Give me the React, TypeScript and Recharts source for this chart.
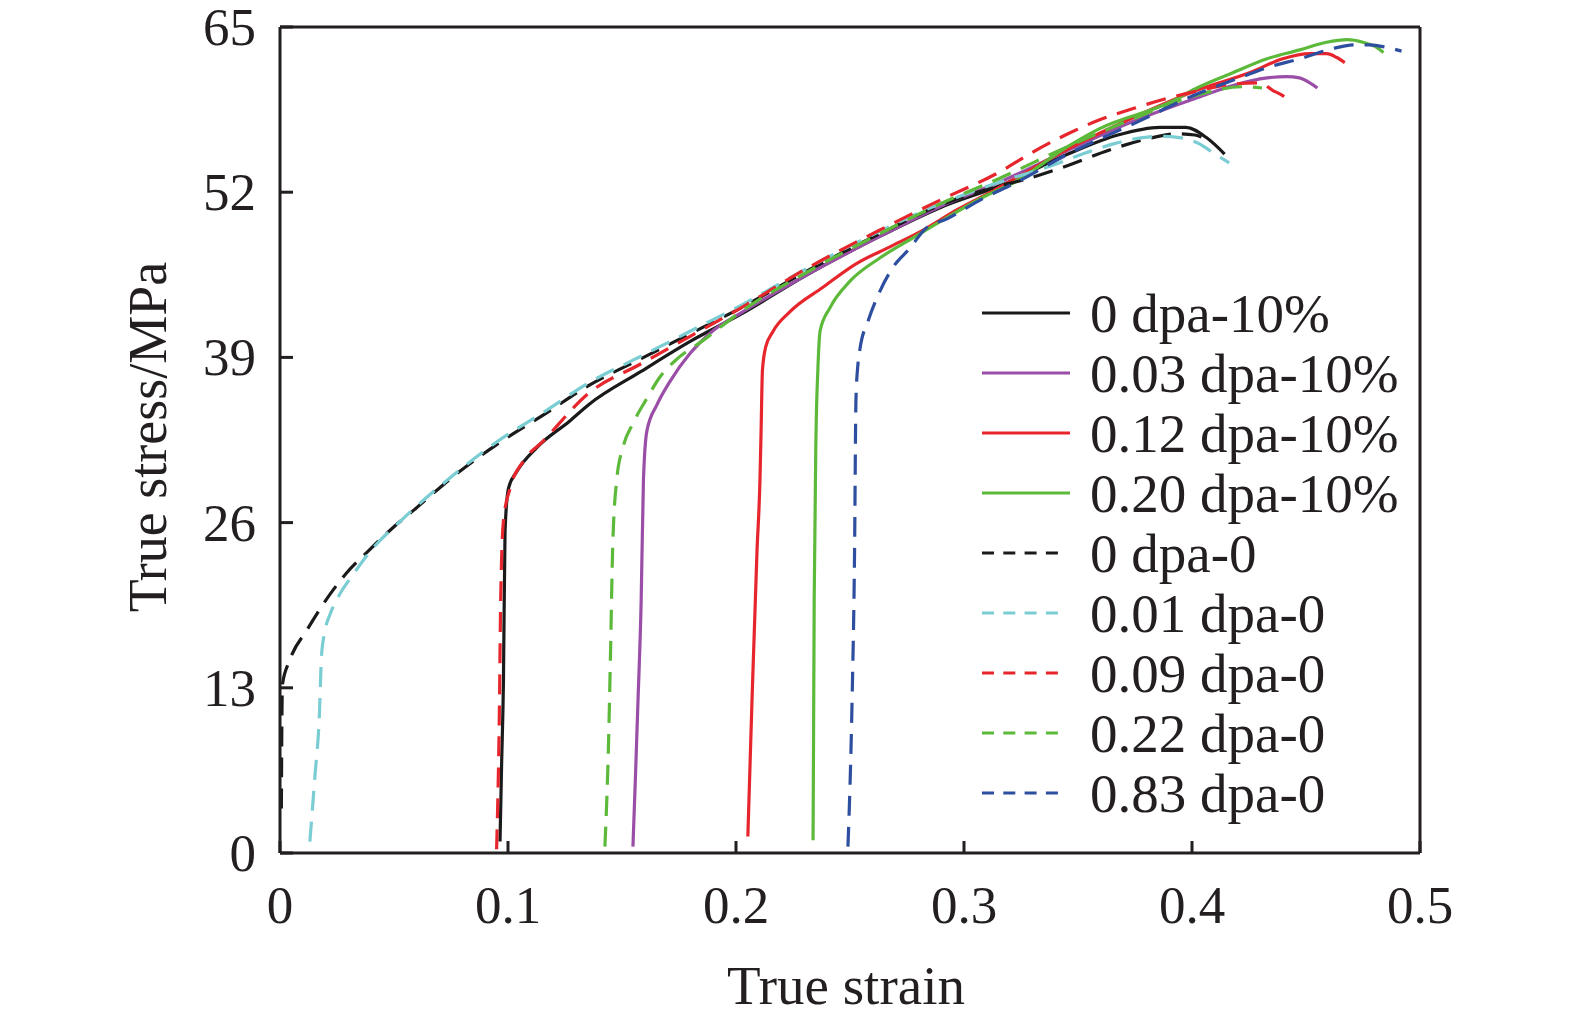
import React from 'react';
import { LineChart, Line, XAxis, YAxis, ReferenceLine, Legend } from 'recharts';

// ---------- tick values / labels ----------
const xTicks = [0, 0.1, 0.2, 0.3, 0.4, 0.5];
const xTickLabels = ['0', '0.1', '0.2', '0.3', '0.4', '0.5'];
const yTicks = [0, 13, 26, 39, 52, 65];
const yTickLabels = ['0', '13', '26', '39', '52', '65'];

// ---------- series values: [true strain, true stress / MPa] ----------
const s0dpa10: number[][] = [
  [0.0965, 0.9], [0.0972, 7], [0.098, 13.5], [0.0987, 25.3], [0.1002, 28.7], [0.1038, 30.0],
  [0.1126, 31.9], [0.1271, 34.0], [0.1355, 35.3], [0.1584, 37.9], [0.1803, 40.3], [0.2022, 42.4],
  [0.2311, 45.5], [0.2639, 48.6], [0.2898, 50.8], [0.3157, 52.5], [0.3456, 55.0], [0.3675, 56.5],
  [0.3859, 57.1], [0.3973, 57.1], [0.4063, 56.3], [0.4143, 55.0],
];
const s003dpa10: number[][] = [
  [0.1548, 0.5], [0.1559, 6], [0.157, 11.9], [0.1584, 19.8], [0.1594, 29.3], [0.1609, 33.2],
  [0.1654, 35.3], [0.171, 37.1], [0.1798, 39.3], [0.1899, 41.1], [0.2022, 42.5], [0.2311, 45.5],
  [0.2639, 48.6], [0.2898, 50.9], [0.3157, 52.8], [0.3456, 55.3], [0.3745, 57.6], [0.4033, 59.5],
  [0.4179, 60.4], [0.4329, 61.0], [0.4416, 61.1], [0.4471, 61.0], [0.4517, 60.6], [0.455, 60.2],
];
const s012dpa10: number[][] = [
  [0.2052, 1.3], [0.207, 11.9], [0.2092, 23.7], [0.2105, 29.3], [0.211, 33.2], [0.2116, 38.0],
  [0.213, 39.8], [0.2161, 41.0], [0.2237, 42.6], [0.238, 44.5], [0.253, 46.4], [0.2675, 47.7],
  [0.2819, 49.0], [0.2968, 50.6], [0.3127, 52.1], [0.3456, 55.4], [0.3745, 57.9], [0.4033, 60.1],
  [0.4252, 61.4], [0.4398, 62.5], [0.4517, 62.9], [0.4591, 62.9], [0.4635, 62.6], [0.467, 62.2],
];
const s020dpa10: number[][] = [
  [0.2338, 1.0], [0.2343, 20], [0.2351, 33], [0.2359, 38], [0.2369, 41.1], [0.2412, 42.9],
  [0.25, 45.0], [0.2629, 46.8], [0.2776, 48.4], [0.2925, 50.0], [0.3083, 51.6], [0.3233, 52.9],
  [0.3456, 55.6], [0.3595, 57.0], [0.3894, 59.0], [0.4033, 60.3], [0.4179, 61.4], [0.4329, 62.5],
  [0.4473, 63.2], [0.459, 63.8], [0.468, 64.0], [0.475, 63.8], [0.481, 63.4], [0.484, 63.0],
];
const s0dpa0: number[][] = [
  [0.0006, 3.5], [0.0008, 10], [0.0011, 13.3], [0.0041, 15.1], [0.012, 17.6], [0.019, 19.6],
  [0.029, 22.0], [0.0389, 23.8], [0.0489, 25.5], [0.0588, 27.0], [0.0758, 29.6], [0.0947, 32.1],
  [0.1166, 34.6], [0.1355, 36.8], [0.1584, 38.9], [0.1803, 40.9], [0.2022, 42.9], [0.2311, 45.8],
  [0.2639, 48.8], [0.2898, 51.0], [0.3157, 52.5], [0.3247, 52.9], [0.3456, 54.1], [0.3635, 55.3],
  [0.3804, 56.2], [0.3934, 56.6], [0.4013, 56.5], [0.4073, 56.0],
];
const s001dpa0: number[][] = [
  [0.0131, 0.9], [0.0153, 6], [0.0173, 11], [0.0182, 15.5], [0.0195, 17.3], [0.022, 18.8],
  [0.026, 20.3], [0.032, 21.9], [0.0394, 23.7], [0.0539, 26.3], [0.0758, 29.7], [0.0947, 32.3],
  [0.1166, 34.8], [0.1355, 37.0], [0.1584, 39.1], [0.1803, 41.1], [0.2022, 43.1], [0.2311, 46.0],
  [0.2639, 49.0], [0.2898, 51.1], [0.3157, 52.8], [0.3386, 54.1], [0.3535, 55.1], [0.3655, 55.8],
  [0.3784, 56.3], [0.3874, 56.4], [0.3944, 56.3], [0.4033, 55.8], [0.4093, 55.1], [0.4163, 54.3],
];
const s009dpa0: number[][] = [
  [0.095, 0.3], [0.0962, 10.9], [0.0968, 20.0], [0.098, 26.1], [0.1009, 28.7], [0.1066, 30.8],
  [0.1153, 32.4], [0.1355, 36.2], [0.1584, 38.5], [0.1803, 40.7], [0.2022, 42.9], [0.2311, 46.0],
  [0.2639, 49.1], [0.2898, 51.4], [0.3157, 53.6], [0.3306, 55.2], [0.3456, 56.6], [0.3595, 57.7],
  [0.3745, 58.6], [0.3894, 59.4], [0.4033, 60.0], [0.4173, 60.5], [0.4298, 60.6], [0.4355, 60.0],
  [0.4398, 59.6], [0.4438, 59.0],
];
const s022dpa0: number[][] = [
  [0.1425, 0.5], [0.144, 8], [0.145, 16], [0.1459, 24], [0.1477, 29.4], [0.1504, 31.9],
  [0.1548, 33.8], [0.161, 35.8], [0.1664, 37.4], [0.1743, 38.9], [0.1853, 40.3], [0.2022, 42.6],
  [0.2311, 45.7], [0.2639, 48.8], [0.2898, 51.1], [0.3157, 53.1], [0.3456, 55.6], [0.3745, 57.8],
  [0.4033, 59.7], [0.4222, 60.3], [0.4307, 60.2],
];
const s083dpa0: number[][] = [
  [0.2491, 0.5], [0.2509, 11.9], [0.252, 23.7], [0.2526, 35.6], [0.2535, 38.5], [0.2544, 39.7],
  [0.258, 41.9], [0.2631, 44.2], [0.2689, 46.1], [0.2763, 47.6], [0.2829, 49.1], [0.2925, 49.9],
  [0.3083, 51.5], [0.3233, 52.8], [0.3456, 55.0], [0.3745, 57.4], [0.4033, 59.8], [0.4179, 60.8],
  [0.4329, 61.8], [0.4473, 62.5], [0.4619, 63.3], [0.4706, 63.6], [0.4779, 63.6], [0.4854, 63.4],
  [0.4919, 63.1],
];

const seriesNames = [
  '0 dpa-10%', '0.03 dpa-10%', '0.12 dpa-10%', '0.20 dpa-10%',
  '0 dpa-0', '0.01 dpa-0', '0.09 dpa-0', '0.22 dpa-0', '0.83 dpa-0',
];
const seriesData = [s0dpa10, s003dpa10, s012dpa10, s020dpa10, s0dpa0, s001dpa0, s009dpa0, s022dpa0, s083dpa0];
const seriesColors = ['#1a1a1a', '#9a4ea8', '#e6262c', '#5db93a', '#1a1a1a', '#7acdd3', '#e6262c', '#5db93a', '#2e4f9f'];
const seriesDashed = [false, false, false, false, true, true, true, true, true];

const FONT = '"Liberation Serif", "Times New Roman", serif';
const INK = '#231f20';

const toPoints = (arr: number[][]) => arr.map(([x, y]) => ({ x, y }));

const XTick = (props: any) => {
  const { x, y, index } = props;
  return (
    <g>
      <line x1={x} y1={y} x2={x} y2={y - 12} stroke={INK} strokeWidth={3} />
      <text x={x} y={y + 52} textAnchor="middle" dominantBaseline="central" fontFamily={FONT} fontSize={53} fill={INK}>
        {xTickLabels[index]}
      </text>
    </g>
  );
};

const YTick = (props: any) => {
  const { x, y, index } = props;
  return (
    <g>
      <line x1={x} y1={y} x2={x + 13} y2={y} stroke={INK} strokeWidth={3} />
      <text x={x - 24} y={y} textAnchor="end" dominantBaseline="central" fontFamily={FONT} fontSize={53} fill={INK}>
        {yTickLabels[index]}
      </text>
    </g>
  );
};

const XLabel = (props: any) => {
  const vb = props.viewBox || {};
  return (
    <text x={vb.x + vb.width / 2 - 4} y={vb.y + 132} textAnchor="middle" dominantBaseline="central" fontFamily={FONT} fontSize={55} fill={INK}>
      True strain
    </text>
  );
};

const YLabel = (props: any) => {
  const vb = props.viewBox || {};
  const cx = vb.x + vb.width - 132;
  const cy = vb.y + vb.height / 2 - 3;
  return (
    <text x={cx} y={cy} transform={`rotate(-90 ${cx} ${cy})`} textAnchor="middle" dominantBaseline="central" fontFamily={FONT} fontSize={54} fill={INK}>
      True stress/MPa
    </text>
  );
};

const LegendBox = () => (
  <svg width={460} height={560} style={{ display: 'block', overflow: 'visible' }}>
    {seriesNames.map((name, i) => {
      const y = 35 + 60 * i;
      const dashed = seriesDashed[i];
      return (
        <g key={name}>
          <line
            x1={14}
            x2={dashed ? 90 : 102}
            y1={y}
            y2={y}
            stroke={seriesColors[i]}
            strokeWidth={3}
            strokeDasharray={dashed ? '12 9.3' : undefined}
          />
          <text x={122} y={y} dominantBaseline="central" fontFamily={FONT} fontSize={55} fill={INK}>
            {name}
          </text>
        </g>
      );
    })}
  </svg>
);

export default function App() {
  return (
    <LineChart width={1560} height={1010} margin={{ top: 19, right: 148, bottom: 164, left: 271 }}>
      <XAxis
        dataKey="x"
        type="number"
        domain={[0, 0.5]}
        ticks={xTicks}
        interval={0}
        height={1}
        tickSize={0}
        tickMargin={0}
        tickLine={false}
        tick={<XTick />}
        axisLine={{ stroke: INK, strokeWidth: 3 }}
        allowDataOverflow
        label={<XLabel />}
      />
      <YAxis
        type="number"
        domain={[0, 65]}
        ticks={yTicks}
        interval={0}
        width={1}
        tickSize={0}
        tickMargin={0}
        tickLine={false}
        tick={<YTick />}
        axisLine={{ stroke: INK, strokeWidth: 3 }}
        allowDataOverflow
        label={<YLabel />}
      />
      <ReferenceLine y={65} stroke={INK} strokeWidth={3} />
      <ReferenceLine x={0.5} stroke={INK} strokeWidth={3} />
      {seriesData.map((arr, i) => (
        <Line
          key={seriesNames[i]}
          name={seriesNames[i]}
          data={toPoints(arr)}
          dataKey="y"
          type="monotone"
          stroke={seriesColors[i]}
          strokeWidth={3.2}
          strokeDasharray={seriesDashed[i] ? '20 11' : undefined}
          dot={false}
          activeDot={false}
          isAnimationActive={false}
        />
      ))}
      <Legend
        layout="horizontal"
        align="center"
        verticalAlign="middle"
        wrapperStyle={{ left: 960, top: 270, width: 460, height: 560 }}
        content={() => <LegendBox />}
      />
    </LineChart>
  );
}
